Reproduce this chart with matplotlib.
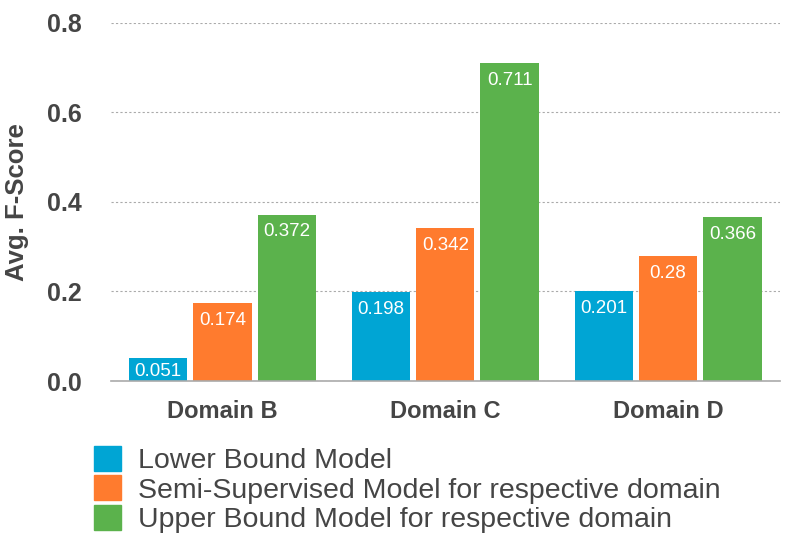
import numpy as np
import matplotlib.pyplot as plt
from matplotlib.patches import Patch

plt.rcParams['font.family'] = ['Liberation Sans', 'DejaVu Sans']

domains = ['Domain B', 'Domain C', 'Domain D']
series_names = ['Lower Bound Model',
                'Semi-Supervised Model for respective domain',
                'Upper Bound Model for respective domain']
lower = [0.051, 0.198, 0.201]
semi = [0.174, 0.342, 0.28]
upper = [0.372, 0.711, 0.366]
value_labels = [['0.051', '0.198', '0.201'],
                ['0.174', '0.342', '0.28'],
                ['0.372', '0.711', '0.366']]
colors = ['#00A5D4', '#FF7B2E', '#5BB24C']
text_col = '#454545'

fig = plt.figure(figsize=(7.94, 5.45), dpi=100)
ax = fig.add_axes([0.1398, 0.3009, 0.842, 0.657])

x = np.arange(len(domains))
width = 0.262
step = 0.289
for i, vals in enumerate([lower, semi, upper]):
    pos = x + (i - 1) * step
    ax.bar(pos, vals, width, color=colors[i], zorder=3)
    for p, v, lab in zip(pos, vals, value_labels[i]):
        ax.text(p, max(v - 0.039, v / 2 - 0.004), lab,
                ha='center', va='center', color='white', fontsize=13.5, zorder=4)

ax.set_xlim(-0.5, 2.5)
ax.set_ylim(0, 0.8)
ax.set_yticks([0.0, 0.2, 0.4, 0.6, 0.8])
ax.set_yticklabels(['0.0', '0.2', '0.4', '0.6', '0.8'],
                   fontsize=18, fontweight='bold', color=text_col)
ax.set_xticks(x)
ax.set_xticklabels(domains, fontsize=17, fontweight='bold', color=text_col)
ax.tick_params(length=0)
ax.tick_params(axis='x', pad=14)
ax.tick_params(axis='y', pad=21)

ax.set_ylabel('Avg. F-Score', fontsize=18.5, fontweight='bold', color=text_col)
ax.yaxis.set_label_coords(-0.122, 0.5)

ax.grid(axis='y', color='#aaaaaa', linestyle=(0, (2, 2)), linewidth=0.8, zorder=0)
for s in ['top', 'right', 'left']:
    ax.spines[s].set_visible(False)
ax.spines['bottom'].set_color('#aaaaaa')
ax.spines['bottom'].set_linewidth(1.2)
ax.spines['bottom'].set_zorder(5)

handles = [Patch(color=c) for c in colors]
leg = fig.legend(handles=handles, labels=series_names, loc='upper left',
                 bbox_to_anchor=(94 / 794, 1 - 446 / 545),
                 frameon=False, fontsize=20.5, handlelength=0.95, handleheight=0.95,
                 handletextpad=0.6, labelspacing=0.05, borderpad=0, borderaxespad=0)
for t in leg.get_texts():
    t.set_color(text_col)

fig.savefig('out.png', dpi=100)
